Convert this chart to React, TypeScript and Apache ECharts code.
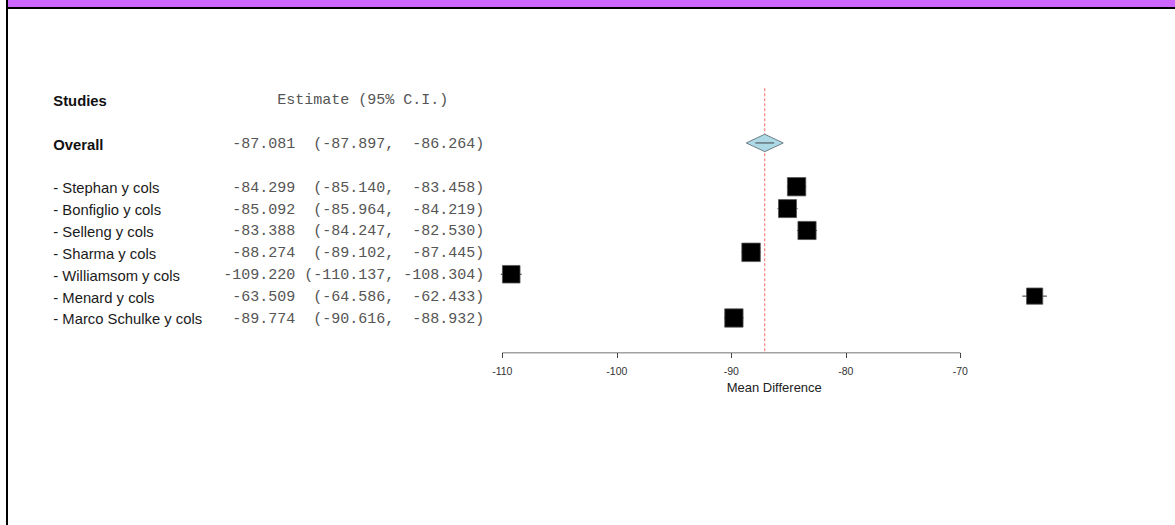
import React, { useEffect, useRef } from "react";
import * as echarts from "echarts";

// ---- data ----
const studyNames = [
  "Stephan y cols",
  "Bonfiglio y cols",
  "Selleng y cols",
  "Sharma y cols",
  "Williamsom y cols",
  "Menard y cols",
  "Marco Schulke y cols",
];
const studyEst = [-84.299, -85.092, -83.388, -88.274, -109.22, -63.509, -89.774];
const studyLower = [-85.14, -85.964, -84.247, -89.102, -110.137, -64.586, -90.616];
const studyUpper = [-83.458, -84.219, -82.53, -87.445, -108.304, -62.433, -88.932];
const overallEst = -87.081;
const overallLower = -87.897;
const overallUpper = -86.264;
const xTicks = [-110, -100, -90, -80, -70];
const headerLabel = "Studies";
const headerEstLabel = "Estimate (95% C.I.)";
const overallLabel = "Overall";
const axisTitle = "Mean Difference";

// row positions (y axis, inverted)
const headerRow = 0;
const overallRow = 2;
const studyRows = [4, 5, 6, 7, 8, 9, 10];
const Y_MIN = -0.5;
const Y_MAX = 11.6;

const NB = "\u00A0";
const pad = (s: string, n: number) => s.padStart(n, NB);
const fmt = (v: number) => v.toFixed(3);
const ciText = (e: number, l: number, u: number) =>
  pad(fmt(e), 8) + NB + pad("(" + fmt(l) + ",", 10) + NB + pad(fmt(u) + ")", 9);

const SANS = "'Liberation Sans', Arial, sans-serif";
const MONO = "'Liberation Mono', 'Courier New', monospace";

export default function App() {
  const ref = useRef<HTMLDivElement>(null);
  useEffect(() => {
    if (!ref.current) return;
    const chart = echarts.init(ref.current, undefined, { renderer: "svg" });

    const rowName: Record<string, string> = {};
    const rowEst: Record<string, string> = {};
    rowName[String(headerRow)] = "{b|" + headerLabel + "}";
    rowEst[String(headerRow)] = "{m|" + headerEstLabel + NB.repeat(4) + "}";
    rowName[String(overallRow)] = "{b|" + overallLabel + "}";
    rowEst[String(overallRow)] = "{m|" + ciText(overallEst, overallLower, overallUpper) + "}";
    studyRows.forEach((r, i) => {
      rowName[String(r)] = "{n|- " + studyNames[i] + "}";
      rowEst[String(r)] = "{m|" + ciText(studyEst[i], studyLower[i], studyUpper[i]) + "}";
    });
    const labelRows = [headerRow, overallRow, ...studyRows];

    const ciWidths = studyLower.map((l, i) => studyUpper[i] - l);
    const studyData = studyEst.map((e, i) => [
      e,
      studyRows[i],
      studyLower[i],
      studyUpper[i],
      18 * Math.sqrt(1.75 / ciWidths[i]),
    ]);

    const option: any = {
      animation: false,
      backgroundColor: "#ffffff",
      graphic: [
        { type: "rect", shape: { x: 8, y: 0, width: 1167, height: 7 }, style: { fill: "#cc66ff" }, silent: true },
        { type: "rect", shape: { x: 8, y: 7, width: 1167, height: 2 }, style: { fill: "#000000" }, silent: true },
        { type: "rect", shape: { x: 6, y: 0, width: 2, height: 525 }, style: { fill: "#000000" }, silent: true },
      ],
      grid: { left: 502.3, right: 128.8, top: 88.26, bottom: 172 },
      xAxis: {
        type: "value",
        position: "bottom",
        min: -110,
        max: -62.5,
        splitLine: { show: false },
        axisLine: { show: false, onZero: false },
        axisTick: { show: true, customValues: xTicks, length: 5, lineStyle: { color: "#444", width: 1 } },
        axisLabel: { customValues: xTicks, fontSize: 10.5, color: "#333", margin: 12, fontFamily: SANS },
        name: axisTitle,
        nameLocation: "middle",
        nameGap: 27,
        nameTextStyle: { fontSize: 13, color: "#222", fontFamily: SANS },
      },
      yAxis: [
        {
          type: "value",
          inverse: true,
          min: Y_MIN,
          max: Y_MAX,
          splitLine: { show: false },
          axisLine: { show: false, onZero: false },
          axisTick: { show: false },
          axisLabel: {
            customValues: labelRows,
            align: "left",
            margin: 449,
            formatter: (v: number) => rowName[String(Math.round(v))] || "",
            rich: {
              b: { fontWeight: "bold", fontSize: 14.8, color: "#111", fontFamily: SANS, padding: [4, 0, 0, 0] },
              n: { fontSize: 14.8, color: "#1a1a1a", fontFamily: SANS, padding: [3, 0, 0, 0] },
            },
          },
        },
        {
          type: "value",
          position: "left",
          inverse: true,
          min: Y_MIN,
          max: Y_MAX,
          splitLine: { show: false },
          axisLine: { show: false, onZero: false },
          axisTick: { show: false },
          axisLabel: {
            customValues: labelRows,
            align: "right",
            margin: 18,
            formatter: (v: number) => rowEst[String(Math.round(v))] || "",
            rich: {
              m: { fontSize: 15, fontFamily: MONO, color: "#555", padding: [3, 0, 0, 0] },
            },
          },
        },
      ],
      series: [
        {
          type: "line",
          silent: true,
          symbol: "none",
          data: [
            [xTicks[0], Y_MAX],
            [xTicks[xTicks.length - 1], Y_MAX],
          ],
          lineStyle: { color: "#444", width: 1 },
          z: 1,
        },
        {
          type: "line",
          silent: true,
          symbol: "none",
          data: [
            [overallEst, Y_MIN],
            [overallEst, Y_MAX],
          ],
          lineStyle: { color: "#ff6b6b", width: 1, type: [3, 2] },
          z: 2,
        },
        {
          type: "custom",
          silent: true,
          z: 3,
          encode: { x: 0, y: 1 },
          data: [[overallEst, overallRow, overallLower, overallUpper]],
          renderItem: (params: any, api: any) => {
            const y = api.value(1);
            const c = api.coord([api.value(0), y]);
            const l = api.coord([api.value(2), y]);
            const h = api.coord([api.value(3), y]);
            const hw = 18.5;
            const hh = 8.7;
            return {
              type: "group",
              children: [
                {
                  type: "polygon",
                  shape: {
                    points: [
                      [c[0] - hw, c[1]],
                      [c[0], c[1] - hh],
                      [c[0] + hw, c[1]],
                      [c[0], c[1] + hh],
                    ],
                  },
                  style: { fill: "#add8e6", stroke: "#6f7f86", lineWidth: 1 },
                },
                {
                  type: "line",
                  shape: { x1: l[0], y1: c[1], x2: h[0], y2: c[1] },
                  style: { stroke: "#444", lineWidth: 1 },
                },
              ],
            };
          },
        },
        {
          type: "custom",
          silent: true,
          z: 4,
          encode: { x: 0, y: 1 },
          data: studyData,
          renderItem: (params: any, api: any) => {
            const y = api.value(1);
            const c = api.coord([api.value(0), y]);
            const l = api.coord([api.value(2), y]);
            const h = api.coord([api.value(3), y]);
            const s = api.value(4);
            return {
              type: "group",
              children: [
                {
                  type: "line",
                  shape: { x1: l[0], y1: c[1], x2: h[0], y2: c[1] },
                  style: { stroke: "#333", lineWidth: 1 },
                },
                {
                  type: "rect",
                  shape: { x: c[0] - s / 2, y: c[1] - s / 2, width: s, height: s },
                  style: { fill: "#000", stroke: "#555", lineWidth: 0.8 },
                },
              ],
            };
          },
        },
      ],
    };
    chart.setOption(option);
    return () => chart.dispose();
  }, []);
  return (
    <div
      ref={ref}
      style={{ position: "fixed", left: 0, top: 0, width: 1175, height: 525, background: "#fff" }}
    />
  );
}
